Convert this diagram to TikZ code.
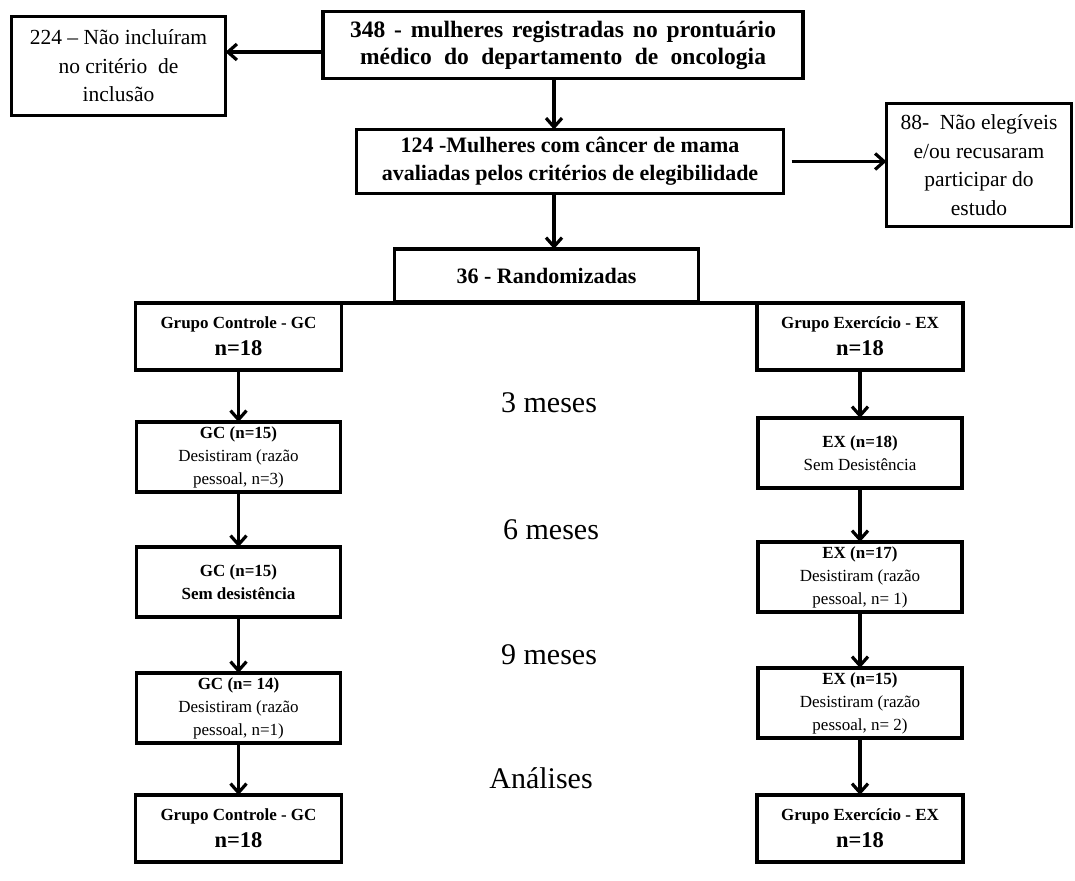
\documentclass[tikz,border=0pt]{standalone}
\usepackage{fontspec}
\setmainfont{Liberation Serif}
\usetikzlibrary{positioning, arrows.meta}

\newcommand{\fsz}[2]{\fontsize{#1}{#2}\selectfont}

\begin{document}
\begin{tikzpicture}[x=1pt, y=-1pt,
    box/.style={draw, line width=3.2pt, outer sep=0pt, align=center, inner sep=2pt},
    big/.style={box, font=\fsz{21.5}{28.5}},
    grp/.style={box, minimum width=206pt, minimum height=67pt, font=\fsz{17}{27}\bfseries},
    mid/.style={box, minimum width=204pt, minimum height=70pt, font=\fsz{17}{23}},
    arrow/.style={-{Straight Barb[length=9pt,width=16pt]}, line width=3.2pt},
    period/.style={font=\fsz{30}{36}}
]
\useasboundingbox (0,0) rectangle (1075,880);

    % Screening (top rows)
    \node[box, minimum width=480pt, minimum height=67pt, font=\fsz{23.5}{27}\bfseries] (reg) at (563,45)
        {\makebox[426pt][s]{348 - mulheres registradas no prontuário}\\
         \makebox[406pt][s]{médico do departamento de oncologia}};
    \node[big, minimum width=214pt, minimum height=99pt] (excl) at (118.5,66)
        {224 -- Não incluíram\\no critério~ de\\inclusão};
    \node[box, minimum width=427pt, minimum height=64pt, font=\fsz{22}{28}\bfseries] (aval) at (570,161.5)
        {124 -Mulheres com câncer de mama\\avaliadas pelos critérios de elegibilidade};
    \node[big, minimum width=185pt, minimum height=123pt] (inel) at (979,165)
        {88-~ Não elegíveis\\e/ou recusaram\\participar do\\estudo};
    \node[box, minimum width=304pt, minimum height=53pt, font=\fsz{22}{28}\bfseries] (rand) at (546.5,275.5)
        {36 - Randomizadas};

    % Control group (left column)
    \node[grp, anchor=north] (gc1) at (238.5,303) {Grupo Controle - GC\\{\fsz{22.5}{27}n=18}};
    \node[mid, below=52pt of gc1] (gc2) {\textbf{GC (n=15)}\\Desistiram (razão\\pessoal, n=3)};
    \node[mid, below=55pt of gc2] (gc3) {\textbf{GC (n=15)}\\\textbf{Sem desistência}};
    \node[mid, below=56pt of gc3] (gc4) {\textbf{GC (n= 14)}\\Desistiram (razão\\pessoal, n=1)};
    \node[grp, below=52pt of gc4] (gc5) {Grupo Controle - GC\\{\fsz{22.5}{27}n=18}};

    % Exercise group (right column)
    \node[grp, anchor=north] (ex1) at (860,303) {Grupo Exercício - EX\\{\fsz{22.5}{27}n=18}};
    \node[mid, below=48pt of ex1] (ex2) {\textbf{EX (n=18)}\\Sem Desistência};
    \node[mid, below=54pt of ex2] (ex3) {\textbf{EX (n=17)}\\Desistiram (razão\\pessoal, n= 1)};
    \node[mid, below=56pt of ex3] (ex4) {\textbf{EX (n=15)}\\Desistiram (razão\\pessoal, n= 2)};
    \node[grp, below=57pt of ex4] (ex5) {Grupo Exercício - EX\\{\fsz{22.5}{27}n=18}};

    % Follow-up periods
    \node[period] (t3) at (549,403) {3 meses};
    \node[period] (t6) at (551,530) {6 meses};
    \node[period] (t9) at (549,655) {9 meses};
    \node[period] (tan) at (541,778) {Análises};

    % Connectors
    \draw[arrow] ([yshift=-7pt]reg.west) -- ([yshift=-7pt]reg.west -| excl.east);
    \draw[arrow] ([xshift=-9pt]reg.south) -- ([xshift=-9pt]reg.south |- aval.north);
    \draw[arrow] ([xshift=8pt]aval.east) -- (aval.east -| inel.west);
    \draw[arrow] ([xshift=-16pt]aval.south) -- ([xshift=-16pt]aval.south |- rand.north);
    \draw[line width=3.2pt] (gc1.north east) -- (ex1.north west);

    \draw[arrow] (gc1) -- (gc2);
    \draw[arrow] (gc2) -- (gc3);
    \draw[arrow] (gc3) -- (gc4);
    \draw[arrow] (gc4) -- (gc5);
    \draw[arrow] (ex1) -- (ex2);
    \draw[arrow] (ex2) -- (ex3);
    \draw[arrow] (ex3) -- (ex4);
    \draw[arrow] (ex4) -- (ex5);

\end{tikzpicture}
\end{document}
